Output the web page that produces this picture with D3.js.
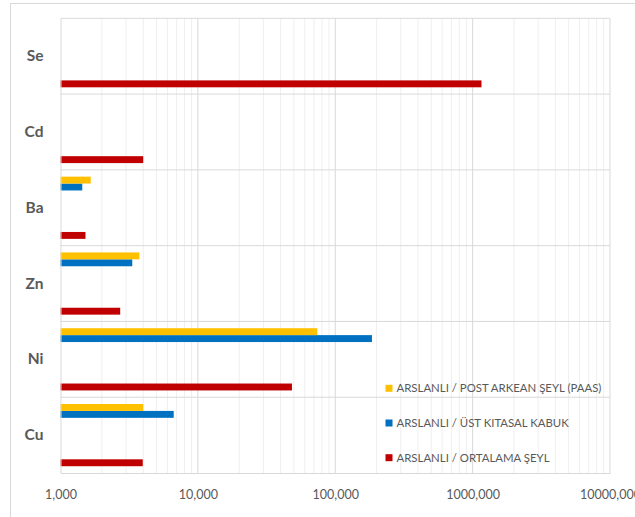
<!DOCTYPE html>
<html><head><meta charset="utf-8">
<script src="https://cdn.jsdelivr.net/npm/d3@7"></script>
<style>body{margin:0;background:#fff}svg{display:block}</style>
</head><body>
<svg id="c" width="635" height="517"></svg>
<script>
// ---- data ----
const categories = ["Cu", "Ni", "Zn", "Ba", "Cd", "Se"];          // bottom to top
const seriesNames = ["ARSLANLI / ORTALAMA ŞEYL", "ARSLANLI / ÜST KITASAL KABUK", "ARSLANLI / POST ARKEAN ŞEYL (PAAS)"];
const ortalamaSeyl = [3.97, 48.4, 2.72, 1.52, 4.0, 1160];
const ustKitasal   = [6.67, 185, 3.33, 1.44, null, null];
const postArkean   = [4.0, 74.0, 3.75, 1.66, null, null];
const tickValues = [1, 10, 100, 1000, 10000];
const tickLabels = ["1,000", "10,000", "100,000", "1000,000", "10000,000"];

// ---- layout ----
const colors = ["#C00000", "#0070C0", "#FFC000"];
const slots = [0, 7, 8]; // slot index within category (from bottom), 9 slots
const svg = d3.select("#c");
const pLeft = 60.5, pRight = 610, pTop = 18.3, pBottom = 473;

svg.append("rect").attr("x", 10.5).attr("y", 3.5).attr("width", 700).attr("height", 600)
  .attr("fill", "#fff").attr("stroke", "#d9d9d9");

const x = d3.scaleLog().domain([1, 10000]).range([pLeft, pRight]);
const y = d3.scaleBand().domain(categories).range([pBottom, pTop]).padding(0);
const bw = y.bandwidth();
const inner = d3.scaleBand().domain(d3.range(9)).range([bw, 0]).paddingOuter(0.98).paddingInner(0);

// minor grid
const minors = [];
for (let e = 0; e < 4; e++) for (let m = 2; m <= 9; m++) minors.push(m * Math.pow(10, e));
svg.append("g").selectAll("line").data(minors).join("line")
  .attr("x1", d => x(d)).attr("x2", d => x(d)).attr("y1", pTop).attr("y2", pBottom)
  .attr("stroke", "#efefef").attr("stroke-width", 1);
// major grid
svg.append("g").selectAll("line").data(tickValues.slice(1)).join("line")
  .attr("x1", d => x(d)).attr("x2", d => x(d)).attr("y1", pTop).attr("y2", pBottom)
  .attr("stroke", "#d9d9d9").attr("stroke-width", 1);
// category boundaries
svg.append("g").selectAll("line").data(categories).join("line")
  .attr("x1", pLeft).attr("x2", pRight).attr("y1", d => y(d)).attr("y2", d => y(d))
  .attr("stroke", "#d9d9d9").attr("stroke-width", 1);

// bars
const seriesVals = [ortalamaSeyl, ustKitasal, postArkean];
seriesVals.forEach((vals, si) => {
  svg.append("g").selectAll("rect")
    .data(categories.map((c, i) => ({c, v: vals[i]})).filter(d => d.v != null))
    .join("rect")
    .attr("x", x(1))
    .attr("y", d => y(d.c) + inner(slots[si]))
    .attr("width", d => x(d.v) - x(1))
    .attr("height", inner.bandwidth())
    .attr("fill", colors[si]);
});

// axes
const xAxis = svg.append("g").attr("transform", `translate(0,${pBottom})`)
  .call(d3.axisBottom(x).tickValues(tickValues).tickFormat((d, i) => tickLabels[i]).tickSize(0).tickPadding(17));
xAxis.select(".domain").attr("stroke", "#d9d9d9");
xAxis.selectAll("text").attr("font-family", "Lato, 'Open Sans', sans-serif").attr("font-size", "12.5px").attr("fill", "#595959");

const yAxis = svg.append("g").attr("transform", `translate(${pLeft},0)`)
  .call(d3.axisLeft(y).tickSize(0).tickPadding(17));
yAxis.select(".domain").attr("stroke", "#d9d9d9");
yAxis.selectAll("text").attr("font-family", "Lato, 'Open Sans', sans-serif").attr("font-size", "15.5px")
  .attr("font-weight", "bold").attr("fill", "#595959");

// legend (top entry = PAAS)
const legendOrder = [2, 1, 0];
const lg = svg.append("g");
legendOrder.forEach((si, k) => {
  const cy = 388.3 + k * 34.7;
  lg.append("rect").attr("x", 385.5).attr("y", cy - 3.5).attr("width", 7).attr("height", 7).attr("fill", colors[si]);
  lg.append("text").attr("x", 396.5).attr("y", cy).attr("dy", "0.35em")
    .attr("font-family", "Lato, 'Open Sans', sans-serif").attr("font-size", "11.4px").attr("fill", "#595959")
    .text(seriesNames[si]);
});
</script>
</body></html>
